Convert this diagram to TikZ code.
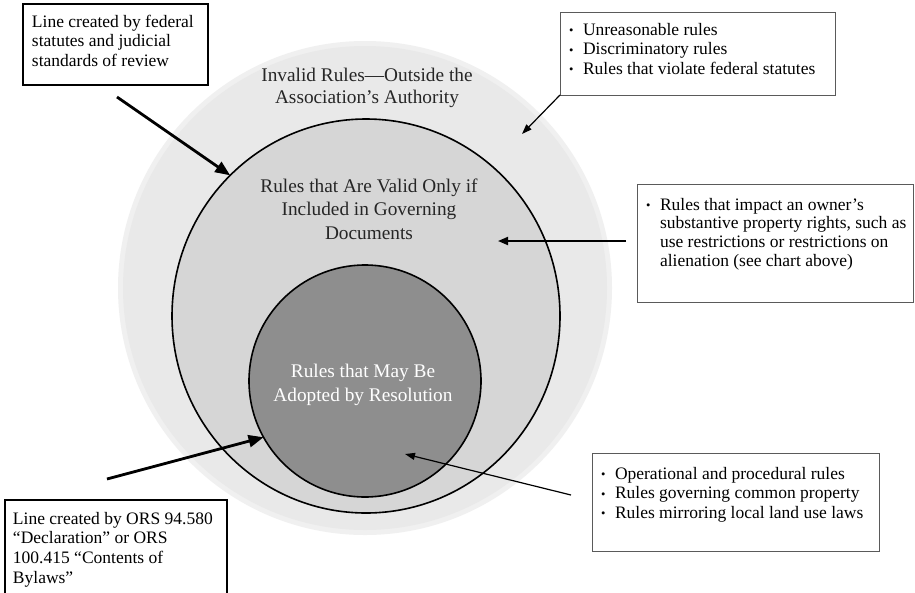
\documentclass[tikz,border=0pt]{standalone}
\usepackage{fontspec}
\setmainfont{Liberation Serif}
\usetikzlibrary{arrows.meta,shapes.geometric}
\definecolor{outerfill}{HTML}{E9E9E9}
\definecolor{outeredge}{HTML}{F0F0F0}
\definecolor{midfill}{HTML}{D6D6D6}
\definecolor{innerfill}{HTML}{8E8E8E}
\definecolor{titlecol}{HTML}{262626}
\definecolor{thinboxcol}{HTML}{5A5A5A}
\newcommand{\bul}{\makebox[14pt][l]{\raisebox{0.3pt}{\fontsize{12.5}{12}\selectfont\textbullet}}}
\newcommand{\hang}{\hspace*{14pt}}
% pad, height, width, baselineskip, top gap, text
\newcommand{\boxtext}[6]{\hspace*{#1}\parbox[t][#2][t]{#3}{\raggedright\fontsize{17.5}{#4}\selectfont\vspace*{#5}#6}}
\begin{document}
\begin{tikzpicture}[x=1pt,y=-1pt,
  thickbox/.style={draw=black, line width=2.2pt, fill=white, inner sep=0pt, outer sep=0pt, anchor=north west},
  thinbox/.style={draw=thinboxcol, line width=1pt, fill=white, inner sep=0pt, outer sep=0pt, anchor=north west},
  ringtitle/.style={font=\fontsize{19.3}{23.5}\selectfont, text=titlecol, align=center, anchor=base, inner sep=0pt},
  thickarrow/.style={line width=2.8pt, -{Triangle[length=15pt,width=12pt]}},
  medarrow/.style={line width=1.8pt, -{Triangle[length=10pt,width=8pt]}},
  thinarrow/.style={line width=1.2pt, -{Triangle[length=10pt,width=7pt]}}
]
\useasboundingbox (0,0) rectangle (915,592);
\fill[white] (0,0) rectangle (915,592);

% circles
\fill[outeredge] (365,288) circle[radius=247pt];
\node[circle, fill=outerfill, minimum size=484pt, inner sep=0pt, outer sep=0pt] (outer) at (365,288) {};
\node[ellipse, draw=black, line width=1.6pt, fill=midfill, minimum width=388pt, minimum height=394pt, inner sep=0pt, outer sep=0pt] (mid) at (366,316) {};
\node[circle, draw=black, line width=1.6pt, fill=innerfill, minimum size=232pt, inner sep=0pt, outer sep=0pt] (inner) at (365,381) {};

% circle titles (anchored at the baseline of their last line)
\node[ringtitle, font=\fontsize{19.3}{22}\selectfont] (outertitle) at (367,103) {Invalid Rules—Outside the\\Association's Authority};
\node[ringtitle] (midtitle) at (369,239) {Rules that Are Valid Only if\\Included in Governing\\Documents};
\node[ringtitle, text=white] (innertitle) at (363,401) {Rules that May Be\\Adopted by Resolution};

% boxes
\node[thickbox] (fedbox) at (23,4) {\boxtext{9pt}{81pt}{176pt}{19.8pt}{10.7pt}{Line created by federal\\statutes and judicial\\standards of review}};
\node[thinbox] (invbox) at (560,12) {\boxtext{9pt}{83pt}{266pt}{19.5pt}{11pt}{\bul Unreasonable rules\\\bul Discriminatory rules\\\bul Rules that violate federal statutes}};
\node[thinbox] (substbox) at (637,184) {\boxtext{9pt}{118pt}{267pt}{18.8pt}{14pt}{\bul Rules that impact an owner's\\\hang substantive property rights, such as\\\hang use restrictions or restrictions on\\\hang alienation (see chart above)}};
\node[thinbox] (opbox) at (592,453) {\boxtext{9pt}{98pt}{278pt}{19.5pt}{14pt}{\bul Operational and procedural rules\\\bul Rules governing common property\\\bul Rules mirroring local land use laws}};
\node[thickbox] (orsbox) at (5,500) {\boxtext{8pt}{100pt}{214pt}{19.7pt}{12pt}{Line created by ORS 94.580\\``Declaration'' or ORS\\100.415 ``Contents of\\Bylaws''}};

% connector ends
\coordinate (fedstart) at (117,97);
\coordinate (invtip) at (522,134);
\coordinate (substart) at (626,241);
\coordinate (subtip) at (498,241);
\coordinate (orsstart) at (107,479);
\coordinate (opstart) at (571,495);
\coordinate (optip) at (405,454);

% arrows
\draw[thickarrow] (fedstart) -- (mid.134);
\draw[thinarrow] (invbox.south west) -- (invtip);
\draw[medarrow] (substart) -- (subtip);
\draw[thickarrow] (orsstart) -- (inner.209);
\draw[thinarrow] (opstart) -- (optip);
\end{tikzpicture}
\end{document}
